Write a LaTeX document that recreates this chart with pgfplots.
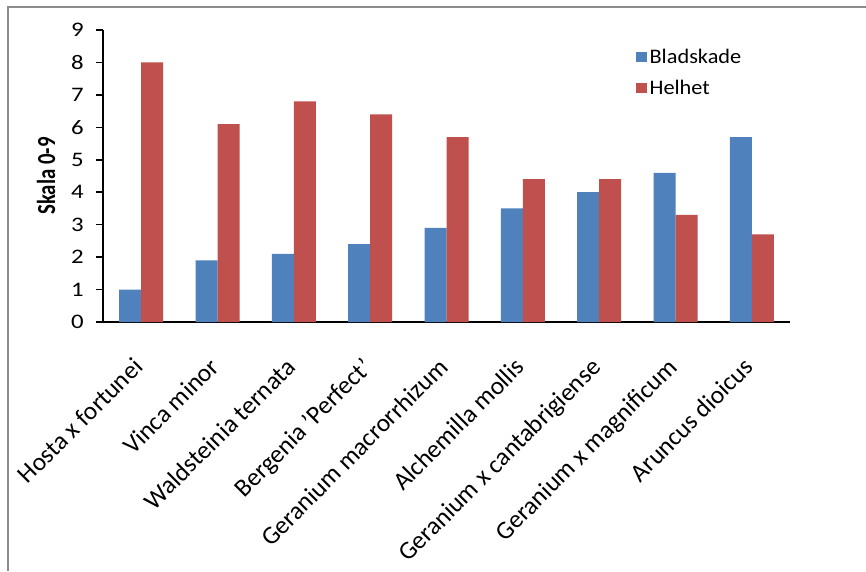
\documentclass[border=0pt]{standalone}
\usepackage{pgfplots}
\pgfplotsset{compat=1.18}
\usepackage{fontspec}
\setmainfont{Carlito}
\newfontfamily\wide{Carlito}[FakeStretch=1.2]
\newfontfamily\legfont{Carlito}[FakeStretch=1.08]
\newfontfamily\narrow{Carlito}[FakeStretch=0.8]
\definecolor{exblue}{HTML}{4F81BD}
\definecolor{exred}{HTML}{C0504D}
\definecolor{frame}{HTML}{8C8C8C}
\begin{document}
\begin{tikzpicture}
\path[use as bounding box] (0pt,0pt) rectangle (649.5pt,428.25pt);
\fill[white] (0pt,0pt) rectangle (649.5pt,428.25pt);
\draw[frame,line width=1.5pt] (6pt,0pt) -- (6pt,423pt) -- (649.5pt,423pt);
\begin{axis}[
  at={(77.25pt,186.75pt)}, anchor=south west,
  scale only axis, width=515.25pt, height=219pt,
  xmin=-0.5, xmax=8.5, ymin=0, ymax=9,
  axis x line*=bottom, axis y line*=left,
  axis line style={line width=1.3pt},
  ybar=0pt, bar width=16.5pt,
  xtick={0,...,8},
  xticklabels={Hosta x fortunei,Vinca minor,Waldsteinia ternata,Bergenia 'Perfect',Geranium macrorrhizum,Alchemilla mollis,Geranium x cantabrigiense,Geranium x magnificum,Aruncus dioicus},
  x tick label style={anchor=north east, inner sep=0pt, xshift=-7pt, yshift=-20.5pt, rotate=45, font=\fontsize{19}{23}\selectfont},
  xtick style={draw=none},
  minor xtick={-0.5,0.5,...,8.5},
  minor tick length=5pt,
  minor x tick style={line width=1.2pt, black},
  ytick={0,...,9},
  tick align=outside,
  major tick length=5pt,
  y tick style={line width=1.2pt, black},
  yticklabel style={xshift=-6pt, font=\wide\fontsize{15.5}{18}\selectfont},
  /pgf/number format/assume math mode=true,
  ylabel={Skala 0-9},
  ylabel style={font=\narrow\fontsize{19.5}{22}\selectfont\bfseries, at={(axis description cs:-0.083,0.5)}, anchor=center},
  legend style={draw=none, fill=none, at={(axis description cs:0.77,0.955)}, anchor=north west, font=\legfont\fontsize{15.5}{18}\selectfont, row sep=7pt, cells={anchor=west}},
  legend image code/.code={\fill[#1] (0pt,-4pt) rectangle (8pt,4pt);},
]
\addplot[fill=exblue, draw=none] coordinates {(0,1.0) (1,1.9) (2,2.1) (3,2.4) (4,2.9) (5,3.5) (6,4.0) (7,4.6) (8,5.7)};
\addplot[fill=exred, draw=none] coordinates {(0,8.0) (1,6.1) (2,6.8) (3,6.4) (4,5.7) (5,4.4) (6,4.4) (7,3.3) (8,2.7)};
\legend{Bladskade,Helhet}
\end{axis}
\end{tikzpicture}
\end{document}
